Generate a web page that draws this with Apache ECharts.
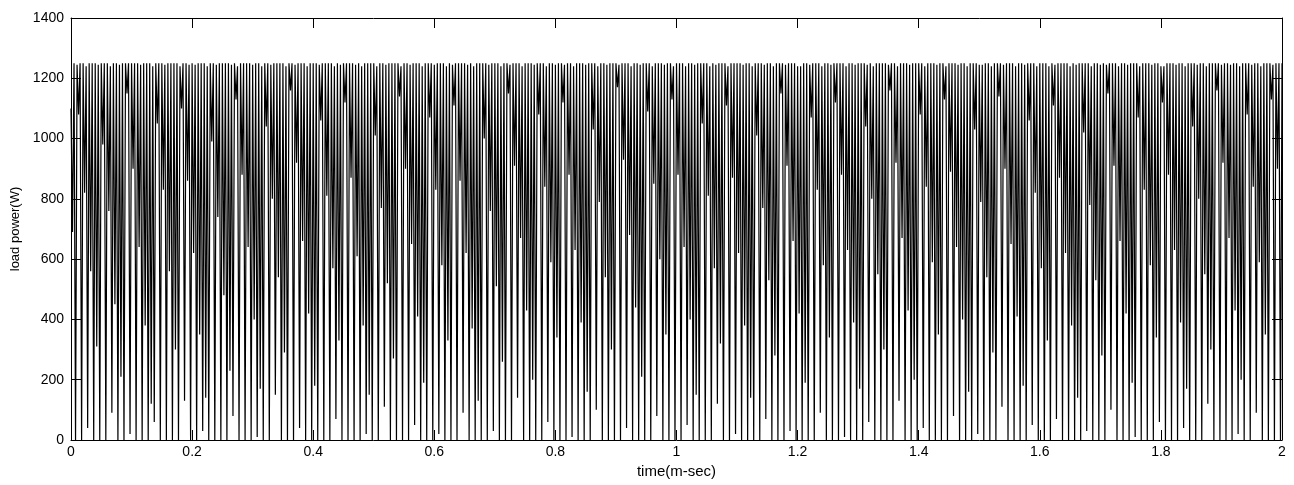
<!DOCTYPE html>
<html>
<head>
<meta charset="utf-8">
<script src="https://cdn.jsdelivr.net/npm/echarts@6/dist/echarts.min.js"></script>
<style>
html,body{margin:0;padding:0;background:#fff;}
#chart{width:1294px;height:485px;}
</style>
</head>
<body>
<div id="chart"></div>
<script>
// ---- data ----
const xTickLabels = ['0','0.2','0.4','0.6','0.8','1','1.2','1.4','1.6','1.8','2'];
const yTickLabels = ['0','200','400','600','800','1000','1200','1400'];
const halfStep = 0.0025; // ms between successive peak / trough vertices

// peak values (W), one per half-cycle
const peakValues = [1100,
1250,1245,1250,1250,1240,1250,1250,1250,1245,1250,1250,1250,1240,1250,1250,1245,1250,1250,1250,1250,
1250,1250,1245,1250,1250,1250,1240,1250,1250,1250,1245,1250,1250,1250,1250,1240,1250,1250,1245,1250,
1245,1250,1250,1250,1240,1250,1250,1245,1250,1250,1250,1250,1245,1250,1240,1250,1250,1250,1250,1245,
1250,1250,1240,1250,1250,1245,1250,1250,1250,1250,1240,1250,1250,1245,1250,1250,1250,1240,1250,1250,
1250,1245,1250,1250,1250,1250,1240,1250,1245,1250,1250,1250,1250,1245,1250,1240,1250,1250,1250,1250,
1240,1250,1250,1245,1250,1250,1250,1250,1240,1250,1250,1245,1250,1250,1250,1240,1250,1250,1250,1245,
1250,1250,1250,1240,1250,1245,1250,1250,1250,1250,1245,1250,1240,1250,1250,1250,1250,1245,1250,1250,
1250,1240,1250,1250,1245,1250,1250,1250,1240,1250,1250,1250,1245,1250,1250,1250,1240,1250,1250,1245,
1250,1250,1245,1250,1250,1240,1250,1250,1250,1245,1250,1250,1250,1240,1250,1250,1245,1250,1250,1250,
1245,1250,1250,1250,1240,1250,1250,1245,1250,1250,1250,1240,1250,1250,1250,1245,1250,1250,1240,1250,
1250,1250,1240,1250,1250,1245,1250,1250,1250,1250,1240,1250,1245,1250,1250,1250,1240,1250,1250,1250,
1250,1245,1250,1250,1240,1250,1250,1250,1245,1250,1250,1240,1250,1250,1250,1245,1250,1250,1250,1240,
1240,1250,1250,1245,1250,1250,1250,1240,1250,1250,1245,1250,1250,1250,1250,1240,1250,1250,1245,1250,
1250,1250,1245,1250,1240,1250,1250,1250,1250,1245,1250,1250,1240,1250,1250,1250,1245,1250,1250,1250,
1250,1240,1250,1250,1250,1245,1250,1250,1240,1250,1250,1250,1245,1250,1250,1240,1250,1250,1250,1245,
1245,1250,1250,1240,1250,1250,1250,1245,1250,1250,1250,1240,1250,1250,1245,1250,1250,1250,1240,1250,
1250,1250,1240,1250,1245,1250,1250,1250,1250,1240,1250,1245,1250,1250,1250,1250,1240,1250,1250,1245,
1250,1245,1250,1250,1250,1240,1250,1250,1245,1250,1250,1250,1240,1250,1250,1250,1245,1250,1250,1240,
1240,1250,1250,1250,1245,1250,1250,1240,1250,1250,1250,1245,1250,1250,1240,1250,1250,1250,1250,1245,
1250,1250,1245,1250,1250,1240,1250,1250,1250,1245,1250,1250,1240,1250,1250,1250,1245,1250,1250,1250
];

// shallow (partial) troughs (W), every other half-cycle
const partialTroughs = [
690,1080,820,560,310,980,760,450,210,1150,900,640,380,120,1050,830,560,300,1100,860,
620,350,140,990,740,480,230,1130,880,640,400,170,1040,800,540,290,1160,920,660,420,
180,1060,810,570,330,1120,870,610,380,150,1010,770,520,270,1140,900,650,410,190,1070,
830,580,330,1110,860,620,370,130,1000,760,510,260,1150,910,670,430,200,1080,840,590,
340,1120,880,630,390,160,1030,790,540,300,1170,930,680,440,210,1090,850,600,350,1130,
880,640,400,150,1050,810,570,320,1110,870,620,380,140,1010,770,530,280,1150,910,660,
420,190,1070,830,580,340,1120,880,630,390,170,1040,800,550,300,1160,920,670,430,200,
1080,840,590,350,1130,890,640,400,160,1030,790,540,290,1140,900,650,410,180,1060,820,
570,330,1110,870,620,380,140,1020,780,530,280,1150,910,660,420,190,1070,830,580,340,
1120,880,630,390,170,1040,800,550,300,1160,920,670,430,200,1080,840,590,350,1130,900
];

// deep troughs (W), the other half-cycles
const deepTroughs = [
0,0,40,0,0,0,90,0,0,20,0,0,0,60,0,0,0,0,130,0,
0,30,0,0,0,0,80,0,0,0,10,0,0,150,0,0,0,40,0,0,
0,0,0,70,0,0,0,0,20,0,0,110,0,0,0,0,50,0,0,0,
20,0,0,0,90,0,0,0,0,30,0,0,0,140,0,0,0,0,60,0,
0,0,10,0,0,0,100,0,0,0,0,40,0,0,0,0,80,0,0,0,
0,50,0,0,0,0,120,0,0,20,0,0,0,0,70,0,0,0,30,0,
0,0,0,90,0,0,0,10,0,0,0,60,0,0,0,0,130,0,0,0,
40,0,0,0,0,80,0,0,0,20,0,0,0,110,0,0,0,0,50,0,
0,0,70,0,0,0,0,30,0,0,0,100,0,0,0,10,0,0,0,60,
0,0,0,40,0,0,0,120,0,0,0,0,20,0,0,90,0,0,0,0
];

// ---- build the line (time from the sampling grid, values from the arrays) ----
const pts = [];
for (let i = 0; i < peakValues.length; i++) {
  pts.push([i * 2 * halfStep, peakValues[i]]);
  if (i < peakValues.length - 1) {
    const arr = (i % 2 === 0) ? partialTroughs : deepTroughs;
    pts.push([i * 2 * halfStep + halfStep, arr[Math.floor(i / 2)]]);
  }
}

const font = 'Liberation Sans, Arial, Helvetica, sans-serif';
const axisCommon = {
  type: 'value',
  axisLine: {show: true, onZero: false, lineStyle: {color: '#000', width: 1}},
  axisTick: {show: true, inside: true, length: 10, lineStyle: {color: '#000', width: 1}},
  splitLine: {show: false}
};

const chart = echarts.init(document.getElementById('chart'), null, {renderer: 'canvas'});
chart.setOption({
  animation: false,
  backgroundColor: '#fff',
  grid: {left: 71, right: 12, top: 18, bottom: 45, containLabel: false, outerBoundsMode: 'none'},
  xAxis: [
    Object.assign({}, axisCommon, {
      min: 0, max: 2, interval: 0.2, position: 'bottom',
      name: 'time(m-sec)', nameLocation: 'middle', nameGap: 19,
      nameTextStyle: {color: '#000', fontSize: 15, fontFamily: font},
      axisLabel: {color: '#000', fontSize: 14, fontFamily: font, margin: 5,
        formatter: (v) => xTickLabels[Math.round(v / 0.2)]}
    }),
    Object.assign({}, axisCommon, {
      min: 0, max: 2, interval: 0.2, position: 'top',
      axisLabel: {show: false}
    })
  ],
  yAxis: [
    Object.assign({}, axisCommon, {
      min: 0, max: 1400, interval: 200, position: 'left',
      name: 'load power(W)', nameLocation: 'middle', nameGap: 47, nameRotate: 90,
      nameTextStyle: {color: '#000', fontSize: 13, fontFamily: font},
      axisLabel: {color: '#000', fontSize: 14, fontFamily: font, margin: 7,
        formatter: (v) => yTickLabels[Math.round(v / 200)]}
    }),
    Object.assign({}, axisCommon, {
      min: 0, max: 1400, interval: 200, position: 'right',
      axisLabel: {show: false}
    })
  ],
  series: [{
    type: 'line',
    data: pts,
    xAxisIndex: 0,
    yAxisIndex: 0,
    showSymbol: false,
    symbol: 'none',
    sampling: null,
    lineStyle: {color: '#000', width: 1.2},
    clip: true
  }]
});
</script>
</body>
</html>
